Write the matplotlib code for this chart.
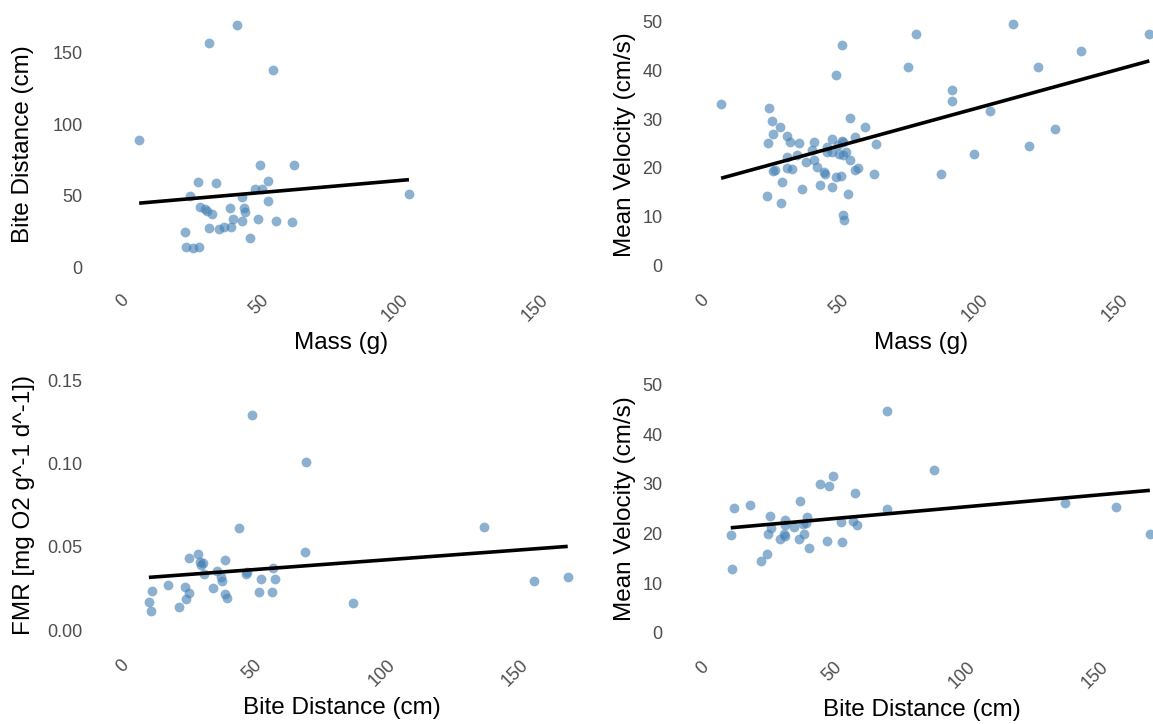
import numpy as np
import matplotlib
matplotlib.use("Agg")
import matplotlib.pyplot as plt
from matplotlib.transforms import ScaledTranslation

plt.rcParams['font.family'] = ['Liberation Sans', 'DejaVu Sans']

# top left: mass vs bite distance
mass_a = [43.8, 33.8, 57.0, 9.0, 52.2, 64.4, 30.0, 36.4, 55.2, 50.4, 52.9, 27.1,
          45.9, 105.4, 54.9, 30.7, 32.5, 33.3, 35.2, 41.4, 46.5, 46.8, 42.4, 45.8,
          51.4, 57.8, 63.7, 34.1, 37.7, 39.3, 41.8, 25.4, 48.7, 25.8, 28.3, 30.3]
bite_a = [169.8, 157.2, 138.0, 89.3, 71.6, 71.4, 59.6, 59.1, 60.0, 54.9, 54.4, 50.0,
          49.3, 51.3, 46.5, 42.3, 40.4, 39.4, 36.9, 41.6, 41.1, 38.5, 33.6, 32.2,
          33.4, 32.2, 31.5, 27.1, 26.7, 27.9, 27.9, 24.8, 20.5, 14.2, 13.1, 13.8]

# top right: mass vs mean velocity
mass_b = [9.7, 26.8, 27.8, 30.6, 28.2, 26.5, 33.2, 34.4, 37.6, 42.9, 42.2, 36.9,
          33.1, 39.9, 42.9, 44.1, 33.3, 35.0, 28.1, 28.9, 31.6, 38.5, 26.2, 31.0,
          45.0, 49.3, 46.5, 47.0, 50.9, 52.4, 54.9, 53.2, 53.7, 57.4, 58.5, 64.4,
          55.8, 54.5, 53.2, 51.8, 49.4, 47.4, 47.5, 49.4, 52.9, 53.4, 51.4, 57.7,
          61.0, 55.6, 65.0, 50.7, 52.9, 76.5, 79.3, 88.3, 92.2, 92.2, 99.9, 105.9,
          114.1, 119.6, 122.9, 129.0, 138.4, 162.7]
vel_b = [33.1, 32.4, 29.7, 28.3, 27.0, 25.2, 26.6, 25.4, 25.1, 25.3, 23.7, 22.7,
         22.2, 21.2, 21.6, 20.1, 20.0, 19.8, 19.3, 19.5, 17.0, 15.6, 14.3, 12.7,
         16.4, 16.0, 19.2, 18.7, 18.2, 18.4, 14.7, 10.3, 9.3, 19.5, 20.0, 18.8,
         21.7, 23.2, 22.6, 22.8, 23.3, 23.2, 24.3, 25.9, 25.5, 25.4, 24.6, 26.3,
         28.3, 30.2, 25.0, 39.0, 45.3, 40.7, 47.6, 18.8, 36.1, 33.7, 22.8, 31.7,
         49.5, 24.5, 40.7, 28.0, 44.1, 47.5]

# bottom left: bite distance vs FMR
bite_c = [51.6, 71.9, 46.8, 138.6, 71.6, 31.5, 28.0, 41.7, 32.2, 33.4, 32.6, 38.5,
          49.8, 49.4, 59.6, 40.2, 40.6, 33.6, 55.0, 60.4, 37.0, 20.4, 26.7, 28.2,
          27.0, 14.4, 13.1, 13.8, 24.5, 41.7, 42.5, 54.5, 59.1, 89.6, 157.5, 170.1]
fmr_c = [0.1289, 0.1011, 0.0616, 0.0620, 0.0468, 0.0460, 0.0436, 0.0422, 0.0412,
         0.0406, 0.0392, 0.0358, 0.0350, 0.0337, 0.0374, 0.0322, 0.0298, 0.0337,
         0.0307, 0.0307, 0.0254, 0.0271, 0.0262, 0.0225, 0.0189, 0.0237, 0.0171,
         0.0119, 0.0143, 0.0219, 0.0195, 0.0232, 0.0231, 0.0163, 0.0298, 0.0320]

# bottom right: bite distance vs mean velocity
bite_d = [72.5, 90.1, 52.2, 47.2, 50.5, 60.3, 39.9, 15.1, 21.1, 72.2, 139.2, 158.1,
          170.9, 28.6, 34.0, 42.4, 42.0, 41.0, 37.6, 34.2, 28.9, 55.0, 59.6, 61.0,
          13.8, 27.7, 33.9, 34.0, 32.1, 39.4, 41.4, 43.3, 50.0, 55.6, 27.4, 25.1, 14.4]
vel_d = [44.8, 32.8, 31.6, 30.1, 29.5, 28.1, 26.5, 25.2, 25.8, 25.0, 26.2, 25.4,
         20.0, 23.5, 22.8, 23.4, 22.2, 21.9, 21.4, 21.7, 21.2, 22.4, 22.5, 21.8,
         19.6, 19.9, 20.0, 19.4, 18.8, 18.9, 20.0, 17.0, 18.5, 18.3, 15.8, 14.4, 12.8]

W, H = 1153, 724
fig = plt.figure(figsize=(W / 100, H / 100), dpi=100)

# (x, y, xlabel, ylabel, box in pixels l,t,r,b, xlim, ylim, yticks, fmt, ylabel offset)
panels = [
    (mass_a, bite_a, 'Mass (g)', 'Bite Distance (cm)', (91, 11, 592, 278),
     (-8.2, 170.8), (-7.7, 179.4), [0, 50, 100, 150], '{:.0f}', 57),
    (mass_b, vel_b, 'Mass (g)', 'Mean Velocity (cm/s)', (671, 11, 1172, 278),
     (-8.2, 170.8), (-2.67, 52.26), [0, 10, 20, 30, 40, 50], '{:.0f}', 35),
    (bite_c, fmr_c, 'Bite Distance (cm)', 'FMR [mg O2 g^-1 d^-1])', (91, 367.5, 592, 643),
     (-8.6, 179.2), (-0.0075, 0.1575), [0, 0.05, 0.10, 0.15], '{:.2f}', 56),
    (bite_d, vel_d, 'Bite Distance (cm)', 'Mean Velocity (cm/s)', (671, 372.6, 1172, 644.9),
     (-8.6, 179.2), (-2.5, 52.5), [0, 10, 20, 30, 40, 50], '{:.0f}', 35),
]

for x, y, xlab, ylab, box, xlim, ylim, yticks, fmt, yoff in panels:
    l, t, r, b = box
    ax = fig.add_axes([l / W, 1 - b / H, (r - l) / W, (b - t) / H])
    ax.scatter(x, y, s=50, color='steelblue', alpha=0.62, linewidths=0, zorder=2)

    # linear fit like geom_smooth(method='lm')
    k, c = np.polyfit(x, y, 1)
    xs = np.array([min(x), max(x)])
    ax.plot(xs, k * xs + c, color='black', lw=2.6, solid_capstyle='butt', zorder=3)

    ax.set_xlim(*xlim)
    ax.set_ylim(*ylim)
    ax.set_xticks([0, 50, 100, 150])
    ax.set_xticklabels(['0', '50', '100', '150'], rotation=45, ha='right', va='top',
                       rotation_mode='anchor')
    ax.set_yticks(yticks)
    ax.set_yticklabels([fmt.format(v) for v in yticks])
    ax.tick_params(length=0, labelsize=13, colors='#4d4d4d')
    ax.tick_params(axis='y', pad=6)
    ax.tick_params(axis='x', pad=10)
    for lab in ax.get_xticklabels():
        lab.set_transform(lab.get_transform() + ScaledTranslation(6 / 100, 0, fig.dpi_scale_trans))
    for s in ax.spines.values():
        s.set_visible(False)

    ax.set_xlabel(xlab, fontsize=17.5, color='black')
    ax.set_ylabel(ylab, fontsize=17.5, color='black')
    ax.xaxis.set_label_coords(((l + r) / 2) / W, 1 - (b + 54) / H, transform=fig.transFigure)
    ax.yaxis.set_label_coords((l - yoff) / W, 1 - ((t + b) / 2) / H, transform=fig.transFigure)

fig.savefig('out.png', dpi=100)
